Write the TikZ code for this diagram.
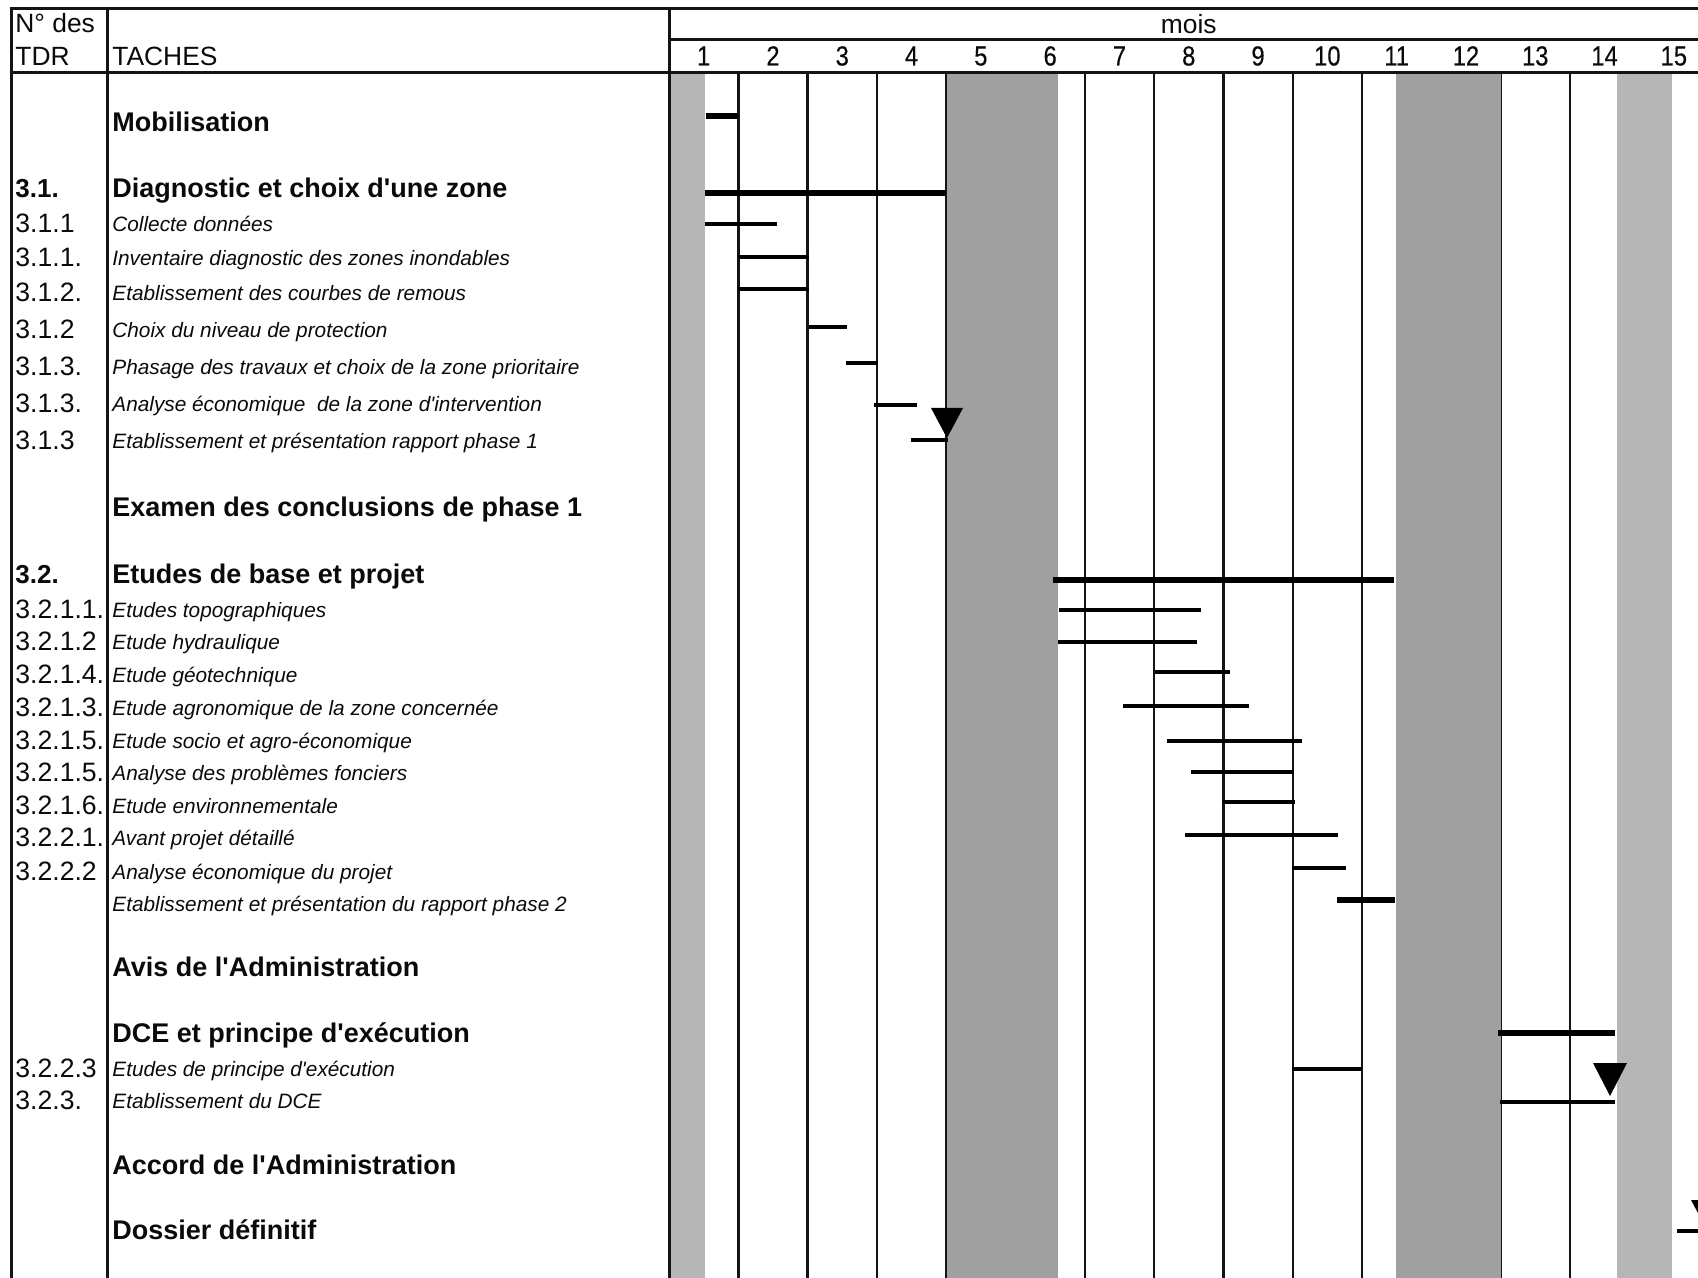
\documentclass[tikz,border=0pt]{standalone}
\usepackage{fontspec}
\setmainfont{Liberation Sans}[Ligatures=TeXOff]
\newfontfamily\monthfont{Liberation Sans}[Ligatures=TeXOff, FakeBold=0.35]
\definecolor{gridC}{HTML}{141414}
\definecolor{barC}{HTML}{000000}
\definecolor{shadeDark}{HTML}{A0A0A0}
\definecolor{shadeLight}{HTML}{B6B6B6}
\definecolor{labelC}{HTML}{0A0A0A}
\def\lwBorder{1.5pt}
\def\lwGrid{1.2pt}
\def\lwBar{2pt}
\def\lwSum{3.4pt}
\def\chartX{669}
\def\colW{69.3}
\def\topY{9}
\def\moisY{40}
\def\headY{73}
\def\botY{1278}
\def\rightX{1698}
\def\leftX{11}
\def\divX{107}
\def\numX{15}
\def\taskX{112}
\tikzset{
  hdr/.style={inner sep=0pt, yshift=-1.6pt, text=labelC, font=\fontsize{13.2}{15}\selectfont},
  month/.style={inner sep=0pt, yshift=-1.6pt, text=labelC, xscale=0.86, font=\monthfont\fontsize{13.8}{15}\selectfont},
  tdr/.style={inner sep=0pt, anchor=mid west, yshift=-2pt, text=labelC, font=\fontsize{13.3}{15}\selectfont},
  tdrbold/.style={tdr, font=\fontsize{13}{15}\selectfont\bfseries},
  phase/.style={inner sep=0pt, anchor=mid west, yshift=-2.2pt, text=labelC, font=\fontsize{13.5}{16}\selectfont\bfseries},
  task/.style={inner sep=0pt, anchor=mid west, yshift=-1.6pt, text=labelC, font=\fontsize{10.4}{12}\selectfont\itshape},
  bar/.style={barC, line width=\lwBar},
  sumbar/.style={barC, line width=\lwSum},
  milestone/.style={fill=barC}
}

\begin{document}
\begin{tikzpicture}[x=0.5pt, y=-0.5pt]
  \useasboundingbox (0,0) rectangle (\rightX,\botY);
  \clip (0,0) rectangle (\rightX,\botY);

  % Month grid
  \foreach \k in {1,...,14}
    \draw[gridC, line width=\lwGrid] ({\chartX+\k*\colW}, \headY) -- ({\chartX+\k*\colW}, \botY);

  % Shaded periods
  \fill[shadeLight] (670, \headY) rectangle (705, \botY);
  \fill[shadeDark]  (947, \headY) rectangle (1058, \botY);
  \fill[shadeDark]  (1396, \headY) rectangle (1501, \botY);
  \fill[shadeLight] (1617, \headY) rectangle (1672, \botY);
  \draw[gridC, line width=\lwGrid] ({\chartX+4*\colW}, \headY) -- ({\chartX+4*\colW}, \botY);

  % Table frame
  \draw[gridC, line width=\lwBorder] (\leftX, \botY) -- (\leftX, \topY) -- (\rightX, \topY);
  \draw[gridC, line width=\lwBorder] (\leftX, \headY) -- (\rightX, \headY);
  \draw[gridC, line width=\lwBorder] (\chartX, \moisY) -- (\rightX, \moisY);
  \draw[gridC, line width=\lwBorder] (\divX, \topY) -- (\divX, \botY);
  \draw[gridC, line width=\lwBorder] (\chartX, \topY) -- (\chartX, \botY);

  % Header
  \node[hdr, anchor=mid west] (hNo) at (\numX, 24) {N° des};
  \node[hdr, anchor=mid west] (hTdr) at (\numX, 57) {TDR};
  \node[hdr, anchor=mid west] (hTaches) at (\taskX, 57) {TACHES};
  \node[hdr, anchor=mid] (hMois) at ({\chartX+7.5*\colW}, 25) {mois};
  \foreach \m in {1,...,15}
    \node[month, anchor=mid] (m\m) at ({\chartX+(\m-0.5)*\colW}, 57) {\m};

  % Phase 1 rows
  \node[phase] (tMobil) at (\taskX, 122) {Mobilisation};
  \node[tdrbold] (n31) at (\numX, 188) {3.1.};
  \node[phase] (tDiag) at (\taskX, 188) {Diagnostic et choix d'une zone};
  \node[tdr] (n311a) at (\numX, 223) {3.1.1};
  \node[task] (tCollecte) at (\taskX, 223) {Collecte données};
  \node[tdr] (n311b) at (\numX, 257) {3.1.1.};
  \node[task] (tInvent) at (\taskX, 257) {Inventaire diagnostic des zones inondables};
  \node[tdr] (n312a) at (\numX, 292) {3.1.2.};
  \node[task] (tRemous) at (\taskX, 292) {Etablissement des courbes de remous};
  \node[tdr] (n312b) at (\numX, 329) {3.1.2};
  \node[task] (tNiveau) at (\taskX, 329) {Choix du niveau de protection};
  \node[tdr] (n313a) at (\numX, 366) {3.1.3.};
  \node[task] (tPhasage) at (\taskX, 366) {Phasage des travaux et choix de la zone prioritaire};
  \node[tdr] (n313b) at (\numX, 403) {3.1.3.};
  \node[task] (tAnalyse) at (\taskX, 403) {Analyse économique\hspace{0.28em} de la zone d'intervention};
  \node[tdr] (n313c) at (\numX, 440) {3.1.3};
  \node[task] (tRapport1) at (\taskX, 440) {Etablissement et présentation rapport phase 1};
  \node[phase] (tExamen) at (\taskX, 507) {Examen des conclusions de phase 1};

  % Phase 2 rows
  \node[tdrbold] (n32) at (\numX, 574) {3.2.};
  \node[phase] (tBase) at (\taskX, 574) {Etudes de base et projet};
  \node[tdr] (n3211) at (\numX, 609) {3.2.1.1.};
  \node[task] (tTopo) at (\taskX, 609) {Etudes topographiques};
  \node[tdr] (n3212) at (\numX, 641) {3.2.1.2};
  \node[task] (tHydro) at (\taskX, 641) {Etude hydraulique};
  \node[tdr] (n3214) at (\numX, 674) {3.2.1.4.};
  \node[task] (tGeo) at (\taskX, 674) {Etude géotechnique};
  \node[tdr] (n3213) at (\numX, 707) {3.2.1.3.};
  \node[task] (tAgro) at (\taskX, 707) {Etude agronomique de la zone concernée};
  \node[tdr] (n3215a) at (\numX, 740) {3.2.1.5.};
  \node[task] (tSocio) at (\taskX, 740) {Etude socio et agro-économique};
  \node[tdr] (n3215b) at (\numX, 772) {3.2.1.5.};
  \node[task] (tFoncier) at (\taskX, 772) {Analyse des problèmes fonciers};
  \node[tdr] (n3216) at (\numX, 805) {3.2.1.6.};
  \node[task] (tEnv) at (\taskX, 805) {Etude environnementale};
  \node[tdr] (n3221) at (\numX, 837) {3.2.2.1.};
  \node[task] (tAPD) at (\taskX, 837) {Avant projet détaillé};
  \node[tdr] (n3222) at (\numX, 871) {3.2.2.2};
  \node[task] (tEcoProj) at (\taskX, 871) {Analyse économique du projet};
  \node[task] (tRapport2) at (\taskX, 903) {Etablissement et présentation du rapport phase 2};
  \node[phase] (tAvis) at (\taskX, 967) {Avis de l'Administration};

  % DCE rows
  \node[phase] (tDCE) at (\taskX, 1033) {DCE et principe d'exécution};
  \node[tdr] (n3223) at (\numX, 1068) {3.2.2.3};
  \node[task] (tPrincipe) at (\taskX, 1068) {Etudes de principe d'exécution};
  \node[tdr] (n323) at (\numX, 1100) {3.2.3.};
  \node[task] (tEtabDCE) at (\taskX, 1100) {Etablissement du DCE};
  \node[phase] (tAccord) at (\taskX, 1165) {Accord de l'Administration};
  \node[phase] (tDossier) at (\taskX, 1230) {Dossier définitif};

  % Bars, phase 1
  \draw[barC, line width=2.8pt] (706, 116) -- (738, 116);
  \draw[sumbar] (705, 193) -- (946, 193);
  \draw[bar] (705, 224) -- (777, 224);
  \draw[bar] (738, 257) -- (809, 257);
  \draw[bar] (738, 289) -- (809, 289);
  \draw[bar] (809, 327) -- (847, 327);
  \draw[bar] (846, 363) -- (878, 363);
  \draw[bar] (874, 405) -- (917, 405);
  \draw[bar] (911, 440) -- (948, 440);
  \fill[milestone] (931, 408) -- (963, 408) -- (947, 438) -- cycle;

  % Bars, phase 2
  \draw[sumbar] (1053, 580) -- (1394, 580);
  \draw[bar] (1059, 610) -- (1201, 610);
  \draw[bar] (1058, 642) -- (1197, 642);
  \draw[bar] (1155, 672) -- (1230, 672);
  \draw[bar] (1123, 706) -- (1249, 706);
  \draw[bar] (1167, 741) -- (1302, 741);
  \draw[bar] (1191, 772) -- (1294, 772);
  \draw[bar] (1223, 802) -- (1295, 802);
  \draw[bar] (1185, 835) -- (1338, 835);
  \draw[bar] (1292, 868) -- (1346, 868);
  \draw[barC, line width=2.6pt] (1337, 900) -- (1395, 900);

  % Bars, DCE and final file
  \draw[sumbar] (1498, 1033) -- (1615, 1033);
  \draw[bar] (1292, 1069) -- (1362, 1069);
  \draw[bar] (1500, 1102) -- (1615, 1102);
  \fill[milestone] (1593, 1063) -- (1627, 1063) -- (1610, 1096) -- cycle;
  \fill[milestone] (1691, 1200) -- (1725, 1200) -- (1708, 1232) -- cycle;
  \draw[barC, line width=1.6pt] (1677, 1231) -- (1710, 1231);
\end{tikzpicture}
\end{document}
